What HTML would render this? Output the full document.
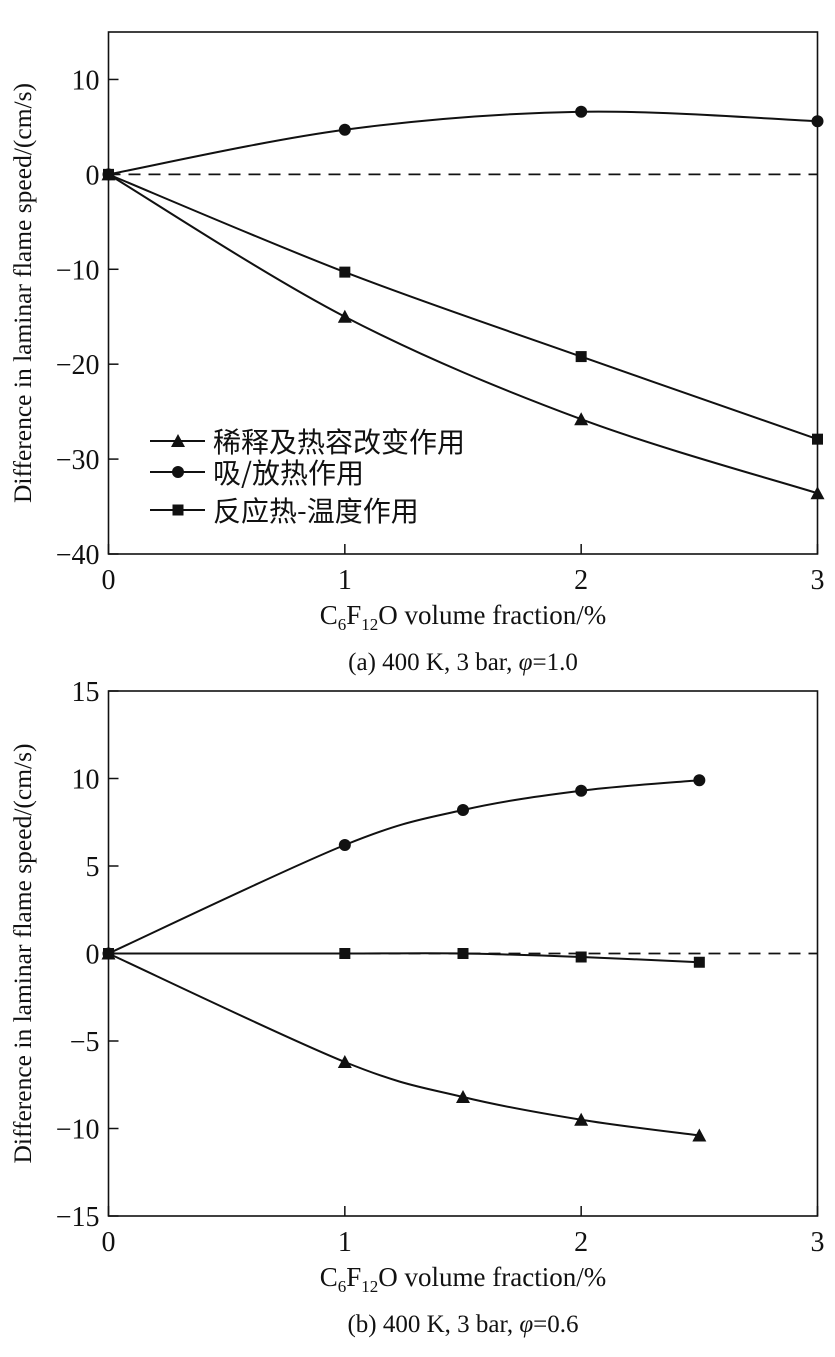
<!DOCTYPE html>
<html><head><meta charset="utf-8"><style>
body{margin:0;background:#fff}
svg text{font-family:"Liberation Serif","Noto Serif CJK SC",serif;fill:#111}
</style></head><body>
<svg id="s" width="835" height="1352"></svg>
<script>
const topX=[0,1,2,3];
const topTri=[0,-15,-25.8,-33.6];
const topCir=[0,4.7,6.6,5.6];
const topSq=[0,-10.3,-19.2,-27.9];
const topYTicks=[10,0,-10,-20,-30,-40];
const botX=[0,1,1.5,2,2.5];
const botCir=[0,6.2,8.2,9.3,9.9];
const botTri=[0,-6.2,-8.2,-9.5,-10.4];
const botSq=[0,0,0,-0.2,-0.5];
const botYTicks=[15,10,5,0,-5,-10,-15];
const xTicks=[0,1,2,3];
const legendLabels=["稀释及热容改变作用","吸/放热作用","反应热-温度作用"];
const NS="http://www.w3.org/2000/svg";
const svg=document.getElementById('s');
function el(t,a,p){const e=document.createElementNS(NS,t);for(const k in a)e.setAttribute(k,a[k]);(p||svg).appendChild(e);return e;}
function path(pts){let d=`M${pts[0][0]},${pts[0][1]}`;for(let i=0;i<pts.length-1;i++){const p0=pts[Math.max(i-1,0)],p1=pts[i],p2=pts[i+1],p3=pts[Math.min(i+2,pts.length-1)];
d+=` C${p1[0]+(p2[0]-p0[0])/6},${p1[1]+(p2[1]-p0[1])/6} ${p2[0]-(p3[0]-p1[0])/6},${p2[1]-(p3[1]-p1[1])/6} ${p2[0]},${p2[1]}`;}return d;}
function marker(g,type,x,y){
 if(type==='tri')return el('polygon',{points:`${x},${y-7} ${x-7},${y+6} ${x+7},${y+6}`,fill:'#111'},g);
 if(type==='cir')return el('circle',{cx:x,cy:y,r:6,fill:'#111'},g);
 return el('rect',{x:x-5.5,y:y-5.5,width:11,height:11,fill:'#111'},g);}
function chart(name,top,bottom,ymin,ymax,yt,xs,series,caption,legend){
 const L=108.5,R=817.5;
 const X=v=>L+(R-L)*v/3, Y=v=>bottom-(bottom-top)*(v-ymin)/(ymax-ymin);
 const g=el('g',{},svg);
 const f=el('rect',{x:L,y:top,width:R-L,height:bottom-top,fill:'none',stroke:'#111','stroke-width':1.6},g);
 
 yt.forEach(v=>{el('line',{x1:L,x2:L+10,y1:Y(v),y2:Y(v),stroke:'#111','stroke-width':1.5},g);
  const t=el('text',{x:L-9,y:Y(v)+10,'text-anchor':'end','font-size':28},g);t.textContent=v<0?'\u2212'+(-v):v;
  });
 xTicks.forEach(v=>{el('line',{x1:X(v),x2:X(v),y1:bottom,y2:bottom-10,stroke:'#111','stroke-width':1.5},g);
  const t=el('text',{x:X(v),y:bottom+35,'text-anchor':'middle','font-size':28},g);t.textContent=v;
  });
 const z=el('line',{x1:L,x2:R,y1:Y(0),y2:Y(0),stroke:'#111','stroke-width':1.8,'stroke-dasharray':'12,8'},g);
 
 series.forEach(s=>{const pts=xs.map((x,i)=>[X(x),Y(s.v[i])]);
  const p=el('path',{d:path(pts),fill:'none',stroke:'#111','stroke-width':2},g);
  
  pts.forEach(q=>{const m=marker(g,s.m,q[0],q[1]);});});
 const yl=el('text',{transform:`translate(31,${(top+bottom)/2}) rotate(-90)`,'text-anchor':'middle','font-size':25.5},g);
 yl.textContent='Difference in laminar flame speed/(cm/s)';
 const xl=el('text',{x:463,y:bottom+70,'text-anchor':'middle','font-size':27},g);
 xl.innerHTML='C<tspan font-size="17" dy="6">6</tspan><tspan dy="-6">F</tspan><tspan font-size="17" dy="6">12</tspan><tspan dy="-6">O volume fraction/%</tspan>';
 
 const c=el('text',{x:463,y:bottom+116,'text-anchor':'middle','font-size':25},g);
 c.innerHTML=caption;
 if(legend){const types=['tri','cir','sq'];const ys=[441,472,510];
  types.forEach((t,i)=>{const lg=el('g',{},g);
   el('line',{x1:150,x2:205,y1:ys[i],y2:ys[i],stroke:'#111','stroke-width':2},lg);marker(lg,t,178,ys[i]);
   const tx=el('text',{x:213,y:ys[i]+11,'font-size':28,style:'font-family:"Noto Sans CJK SC",sans-serif'},lg);tx.textContent=legendLabels[i];});}
}
chart('chart-a',32,554,-40,15,topYTicks,topX,[{n:'dilution',v:topTri,m:'tri'},{n:'heat',v:topCir,m:'cir'},{n:'reaction',v:topSq,m:'sq'}],'(a) 400 K, 3 bar, <tspan font-style="italic">φ</tspan>=1.0',true);
chart('chart-b',691,1216,-15,15,botYTicks,botX,[{n:'dilution',v:botTri,m:'tri'},{n:'heat',v:botCir,m:'cir'},{n:'reaction',v:botSq,m:'sq'}],'(b) 400 K, 3 bar, <tspan font-style="italic">φ</tspan>=0.6',false);
</script>
</body></html>
